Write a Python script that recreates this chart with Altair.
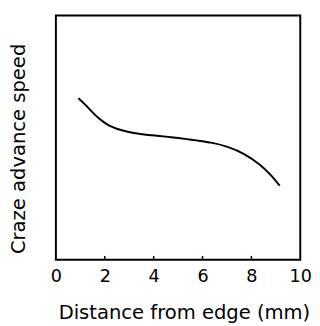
import altair as alt
import pandas as pd

distance_mm = [0.92, 1.19, 1.45, 1.72, 1.99, 2.25, 2.52, 2.79, 3.19, 3.59, 4.12, 4.72, 5.30, 5.80, 6.39, 7.05, 7.72, 8.39, 8.79, 9.16]
speed = [6.61, 6.37, 6.08, 5.81, 5.61, 5.45, 5.35, 5.27, 5.19, 5.13, 5.08, 5.02, 4.95, 4.88, 4.80, 4.63, 4.35, 3.88, 3.48, 3.04]
x_ticks = [0, 2, 4, 6, 8, 10]
inner_ticks = [2, 4, 6, 8]

curve = pd.DataFrame({"d": distance_mm, "v": speed})
ticks = pd.DataFrame({"d": inner_ticks})

FONT = "DejaVu Sans"
W, H = 250, 250

xscale = alt.Scale(domain=[0, 10], nice=False)
yscale = alt.Scale(domain=[0, 10], nice=False)

line = alt.Chart(curve).mark_line(color="black", strokeWidth=2, interpolate="basis").encode(
    x=alt.X("d:Q", scale=xscale, axis=alt.Axis(
        values=x_ticks, ticks=False, domain=False, grid=False,
        labelFontSize=18, labelFont=FONT, labelColor="black", labelPadding=8,
        labelFlush=False,
        title="Distance from edge (mm)", titleFont=FONT, titleFontSize=20,
        titleFontWeight="normal", titleColor="black",
        titleX=131, titleY=60, titleAlign="center", titleBaseline="alphabetic")),
    y=alt.Y("v:Q", scale=yscale, axis=alt.Axis(
        labels=False, ticks=False, domain=False, grid=False,
        title="Craze advance speed", titleFont=FONT, titleFontSize=20,
        titleFontWeight="normal", titleColor="black", titleAngle=270,
        titleX=-32, titleY=136, titleAlign="center", titleBaseline="alphabetic")),
)

tick_marks = alt.Chart(ticks).mark_rule(color="black", strokeWidth=1.5).encode(
    x=alt.X("d:Q", scale=xscale),
    y=alt.value(H),
    y2=alt.value(H - 4),
)

chart = alt.layer(line, tick_marks).properties(
    width=W, height=H,
    autosize=alt.AutoSizeParams(type="none"),
    padding={"left": 49, "top": 4, "right": 12, "bottom": 62},
    background="white",
).configure_view(stroke="black", strokeWidth=2)

chart.save("out.html", embed_options={"renderer": "svg", "actions": False})
